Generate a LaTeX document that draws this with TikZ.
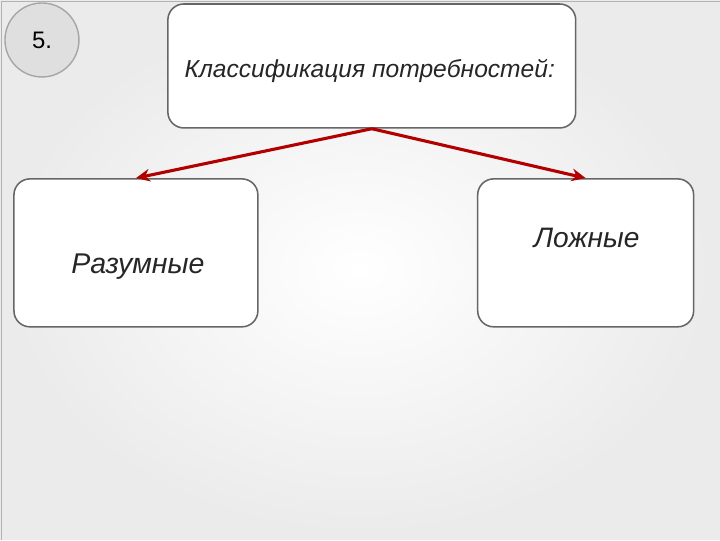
\documentclass[tikz,border=0pt]{standalone}
\usepackage{fontspec}
\setmainfont{Liberation Sans}
\usetikzlibrary{positioning,arrows.meta}

\begin{document}
\begin{tikzpicture}
  [x=0.025cm,y=-0.025cm,
   box/.style={draw=gray!80!black,line width=1.1pt,fill=white,rounded corners=0.4cm,inner sep=0pt},
   lbl/.style={text=black!85,inner sep=0pt},
   link/.style={-{Stealth[length=10pt,width=9pt]},draw=red!70!black,line width=2.2pt}]
  % background
  \shade[inner color=white,outer color=gray!16] (0,0) rectangle (720,540);
  \draw[gray!60,line width=0.6pt] (1,540) -- (1,1) -- (720,1);
  \useasboundingbox (0,0) rectangle (720,540);

  \node[circle,draw=gray!70,line width=1pt,fill=gray!25,minimum size=1.85cm,font=\fontsize{17}{20}\selectfont] (num) at (42,40) {5.};

  \node[box,minimum width=10.2cm,minimum height=3.1cm] (top) at (372,66) {};
  \node[box,minimum width=6.1cm,minimum height=3.7cm] (left) at (136,253) {};
  \node[box,minimum width=5.4cm,minimum height=3.7cm] (right) at (586,253) {};

  \node[lbl,font=\itshape\fontsize{17.5}{21}\selectfont] (tt) at (370,71) {Классификация потребностей:};
  \node[lbl,font=\itshape\fontsize{20.3}{24}\selectfont] (lt) at (138,267) {Разумные};
  \node[lbl,font=\itshape\fontsize{20}{24}\selectfont] (rt) at (587,238) {Ложные};

  \draw[link] (top.south) -- (left.north);
  \draw[link] (top.south) -- (right.north);
\end{tikzpicture}
\end{document}
